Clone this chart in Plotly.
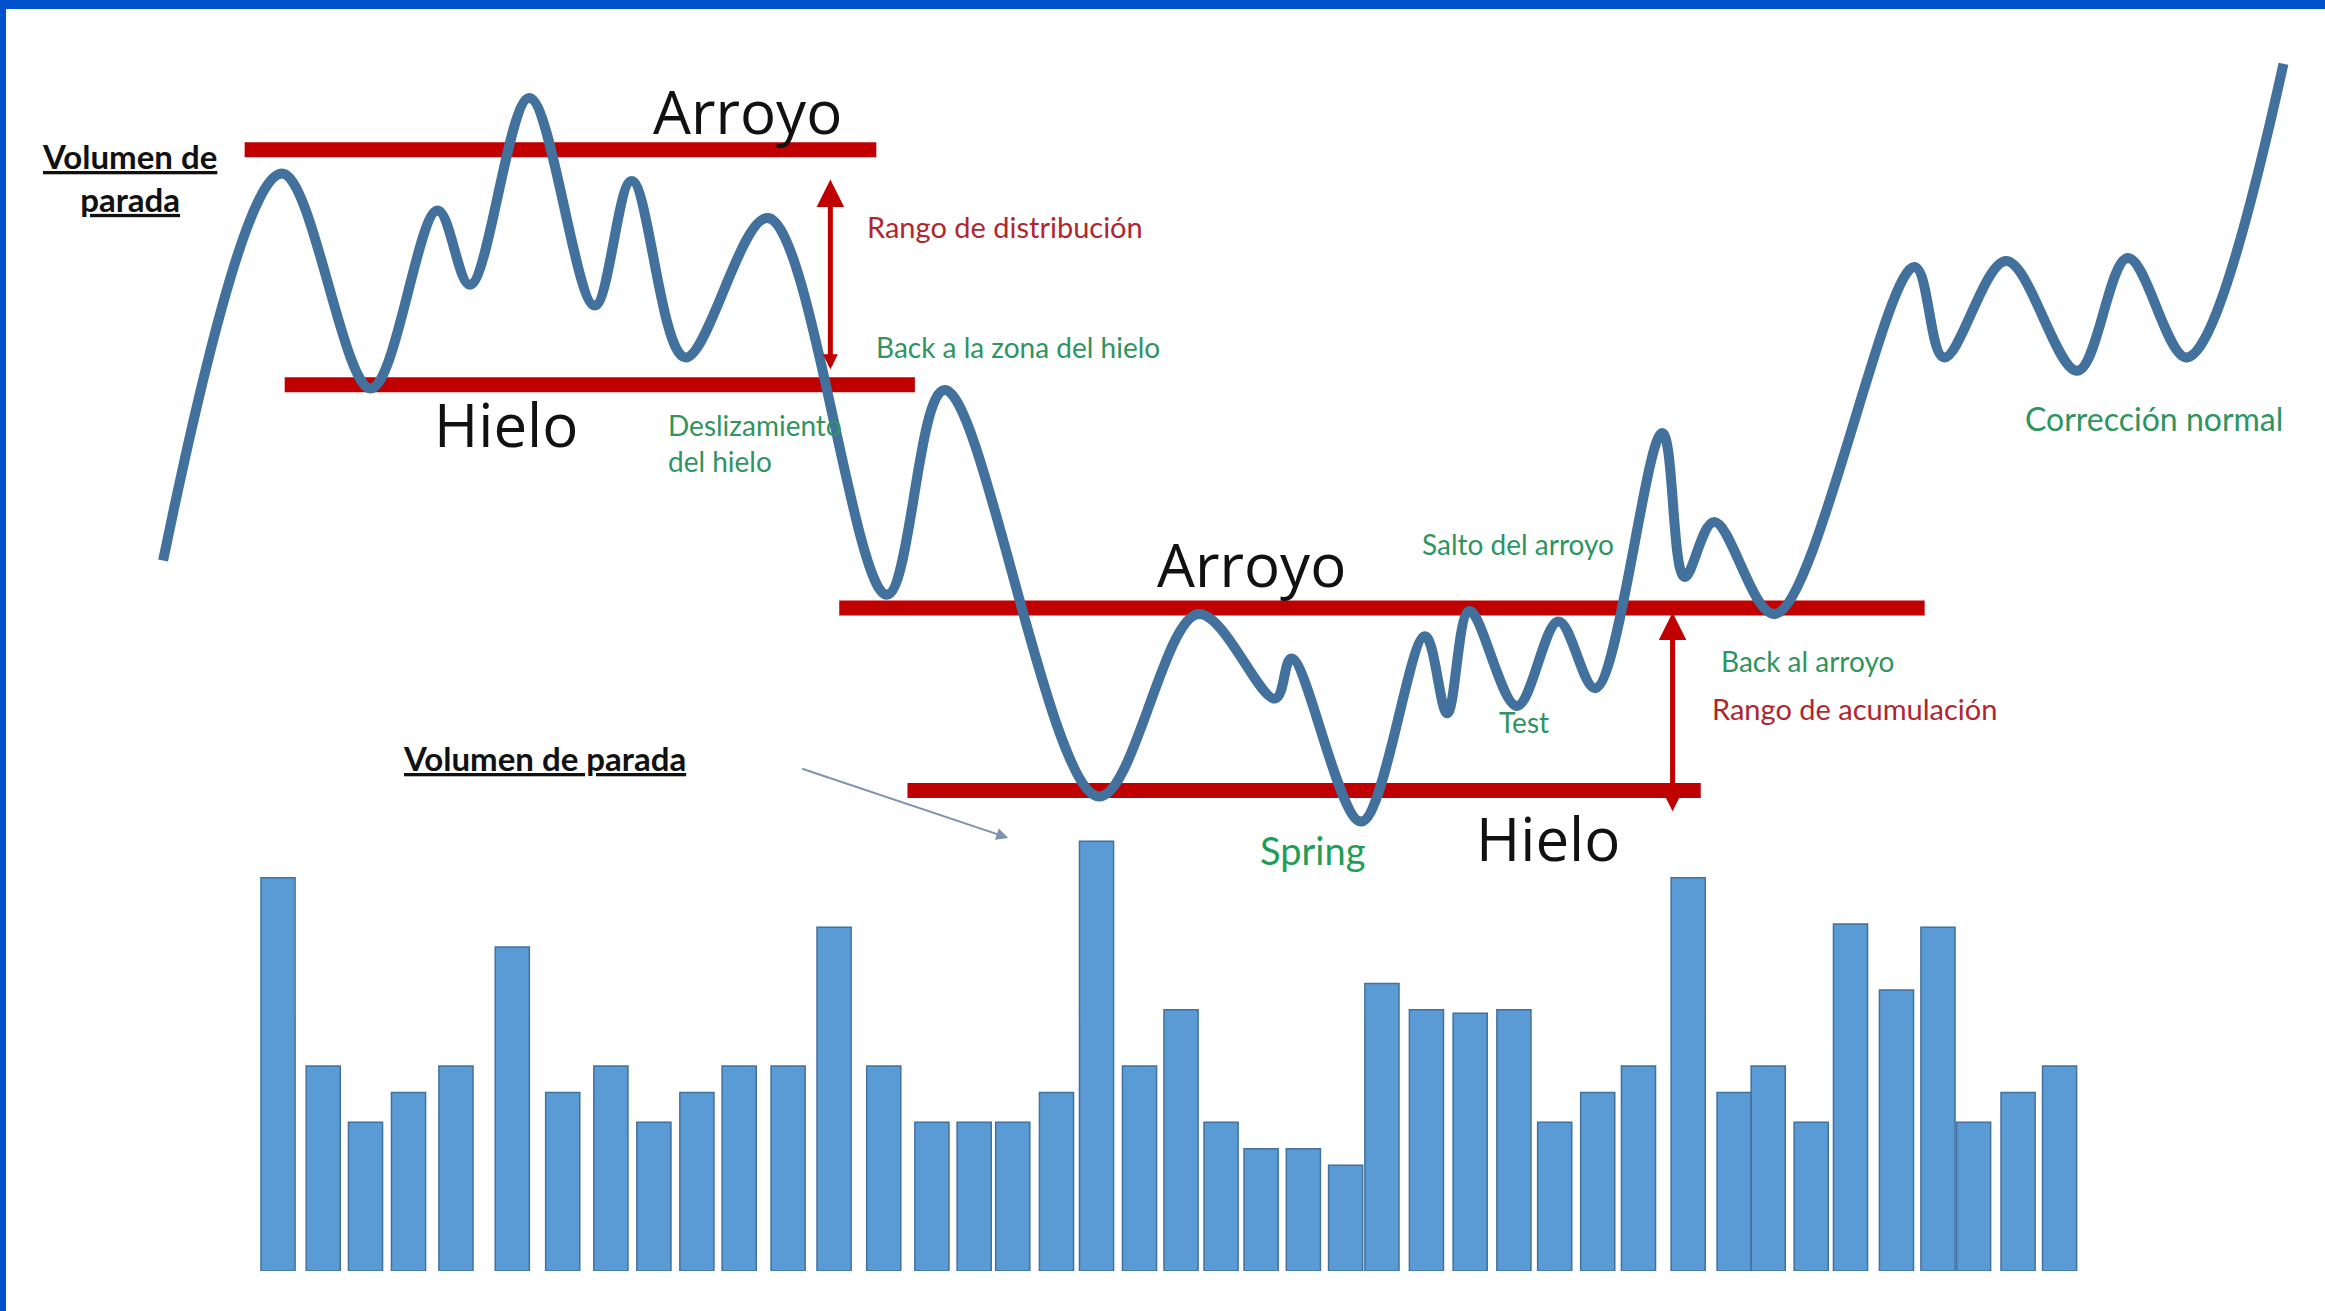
import plotly.graph_objects as go

# ---------------- data ----------------
# Price path turning points: time units and price units
price_t = [110, 190, 250, 295, 317, 357, 401, 426, 462, 518, 598, 637, 741, 808, 860, 871,
           918, 961, 976, 991, 1023, 1051, 1076, 1121, 1136, 1156, 1197, 1291, 1311, 1353,
           1401, 1435, 1475, 1540]
price_p = [506, 767, 622, 742, 692, 818, 678, 762, 643, 737, 483, 621, 347, 470, 413, 440,
           330, 455, 403, 472, 408, 465, 420, 592, 495, 532, 470, 704, 643, 708,
           634, 710, 643, 841]

# Support / resistance levels
level_name = ["Arroyo", "Hielo", "Arroyo", "Hielo"]
level_price = [783, 624.5, 474, 351]
level_start = [165, 192, 566, 612]
level_end = [591, 617, 1298, 1147]

# Volume bars
vol_t = [187.5, 218, 246.5, 275.5, 307.5, 345.5, 379.5, 412, 441, 470, 498.5, 531.5,
         562.5, 596, 628.5, 657, 683, 712.5, 739.5, 768.5, 796.5, 823.5, 850.5, 879,
         907.5, 932, 962, 991.5, 1021, 1048.5, 1077.5, 1105, 1138.5, 1169.5, 1192.5,
         1221.5, 1248, 1279, 1307, 1331, 1361, 1389]
vol = [119, 62, 45, 54, 62, 98, 54, 62, 45, 54, 62, 62, 104, 62, 45, 45, 45, 54, 130, 62,
       79, 45, 37, 37, 32, 87, 79, 78, 79, 45, 54, 62, 119, 54, 62, 45, 105, 85, 104, 45,
       54, 62]

# Level labels
big_text = ["Arroyo", "Hielo", "Arroyo", "Hielo"]
big_t = [504, 341.5, 844, 1044]
big_p = [809, 598, 503.5, 319]

# Phase labels
lab_text = ["Rango de distribución", "Back a la zona del hielo", "Deslizamiento<br>del hielo",
            "Salto del arroyo", "Back al arroyo", "Rango de acumulación", "Test", "Spring",
            "Corrección normal"]
lab_t = [677.5, 686.5, 449, 1024, 1219, 1250.5, 1028, 885, 1452.5]
lab_p = [731, 650, 585.5, 517, 438, 406, 397, 311, 602]
lab_kind = ["range", "phase", "phase", "phase", "phase", "range", "phase", "spring", "phase"]

# Range arrows (time, top price, bottom price)
range_t = [560, 1128]
range_top = [763, 471]
range_bottom = [634, 336]

# Stopping volume labels
stop_text = ["Volumen de<br>parada", "Volumen de parada"]
stop_t = [87, 367.5]
stop_p = [764, 373]
stop_arrow_from = (540, 366)
stop_arrow_to = (680, 319)

# ---------------- styles ----------------
LINE_BLUE = "#41719C"
BAR_FILL = "#5B9BD5"
RED = "#C00000"
GREEN = "#2F9460"
RED_TXT = "#B0262F"
FONT_BIG = "Open Sans"
FONT_SMALL = "Lato"

fig = go.Figure()

# red levels (under the price line)
for name, p, t0, t1 in zip(level_name, level_price, level_start, level_end):
    fig.add_trace(go.Scatter(x=[t0, t1], y=[p, p], mode="lines", name=name,
                             line=dict(color=RED, width=15), hoverinfo="skip"))

# price path
fig.add_trace(go.Scatter(x=price_t, y=price_p, mode="lines", name="Precio",
                         line=dict(color=LINE_BLUE, width=10, shape="spline", smoothing=1.0)))

# volume
fig.add_trace(go.Bar(x=vol_t, y=vol, yaxis="y2", name="Volumen", width=23,
                     marker=dict(color=BAR_FILL, line=dict(color=LINE_BLUE, width=1.5))))

annotations = []
for txt, t, p in zip(big_text, big_t, big_p):
    annotations.append(dict(x=t, y=p, xref="x", yref="y", text=txt, showarrow=False,
                            xanchor="center", yanchor="middle",
                            font=dict(family=FONT_BIG, size=60, color="#111111")))

for txt, t, p, kind in zip(lab_text, lab_t, lab_p, lab_kind):
    if kind == "range":
        col, size = RED_TXT, 29
    elif kind == "spring":
        col, size = "#1F9E55", 38
    else:
        col, size = GREEN, 28
    if txt.startswith("Corrección"):
        size = 32
    left = txt.startswith("Deslizamiento")
    annotations.append(dict(x=t, y=p, xref="x", yref="y", text=txt, showarrow=False,
                            xanchor="left" if left else "center", yanchor="middle",
                            align="left" if left else "center",
                            font=dict(family=FONT_SMALL, size=size, color=col)))

for txt, t, p in zip(stop_text, stop_t, stop_p):
    annotations.append(dict(x=t, y=p, xref="x", yref="y", text="<u>" + txt + "</u>",
                            showarrow=False, xanchor="center", yanchor="middle",
                            align="center",
                            font=dict(family=FONT_SMALL, size=33, color="#111111",
                                      weight="bold")))

for t, top, bot, big in zip(range_t, range_top, range_bottom, [False, True]):
    annotations.append(dict(x=t, y=top, ax=t, ay=bot, xref="x", yref="y", axref="x",
                            ayref="y", text="", showarrow=True, arrowhead=2,
                            arrowsize=1.1, arrowwidth=5, arrowcolor=RED,
                            arrowside="end+start", startarrowhead=2,
                            startarrowsize=0.9 if big else 0.6, standoff=0,
                            startstandoff=0))

annotations.append(dict(x=stop_arrow_to[0], y=stop_arrow_to[1], ax=stop_arrow_from[0],
                        ay=stop_arrow_from[1], xref="x", yref="y", axref="x", ayref="y",
                        text="", showarrow=True, arrowhead=2, arrowsize=1.2,
                        arrowwidth=2, arrowcolor="#7E93AE", standoff=0))

fig.update_layout(
    width=2325, height=1311,
    margin=dict(l=0, r=0, t=0, b=0),
    paper_bgcolor="white", plot_bgcolor="rgba(0,0,0,0)",
    showlegend=False,
    xaxis=dict(range=[0, 1568], visible=False, domain=[0, 1], fixedrange=True),
    yaxis=dict(range=[0, 884], visible=False, domain=[0, 1], fixedrange=True),
    yaxis2=dict(range=[0, 140], visible=False, domain=[0.0305, 0.3835], anchor="x",
                fixedrange=True),
    annotations=annotations,
    shapes=[
        dict(type="rect", xref="paper", yref="paper", x0=0, x1=1, y0=1 - 9 / 1311, y1=1,
             fillcolor="#0052CC", line=dict(width=0), layer="above"),
        dict(type="rect", xref="paper", yref="paper", x0=0, x1=6 / 2325, y0=0, y1=1,
             fillcolor="#0052CC", line=dict(width=0), layer="above"),
    ],
)

fig.write_html("out.html", config={"displayModeBar": False},
               post_script="document.body.style.margin='0';document.body.style.overflow='hidden';")
